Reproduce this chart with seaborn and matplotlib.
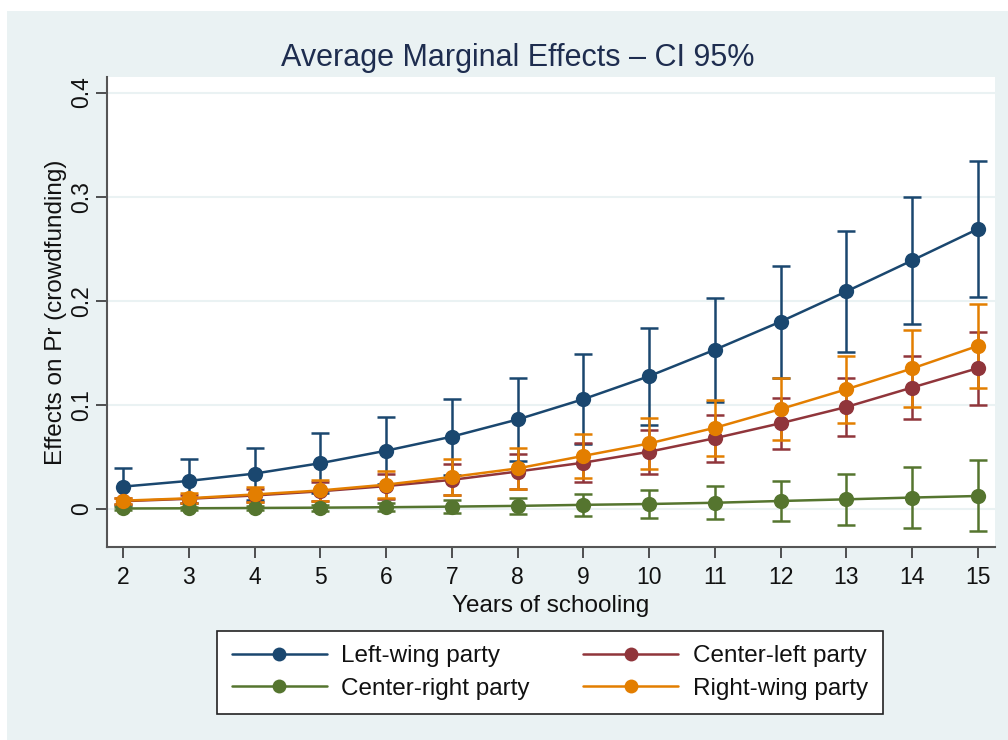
import numpy as np
import pandas as pd
import matplotlib
matplotlib.use("Agg")
import matplotlib.pyplot as plt
from matplotlib.lines import Line2D
from matplotlib.patches import Rectangle
import seaborn as sns

# ---------------- data ----------------
years = [2, 3, 4, 5, 6, 7, 8, 9, 10, 11, 12, 13, 14, 15]
parties = ["Left-wing party", "Center-left party", "Center-right party", "Right-wing party"]

left_wing = [0.0215, 0.027, 0.034, 0.044, 0.056, 0.0695, 0.086, 0.1055, 0.1276, 0.153, 0.180, 0.209, 0.2388, 0.269]
left_wing_hi = [0.039, 0.048, 0.059, 0.073, 0.088, 0.106, 0.126, 0.149, 0.174, 0.203, 0.2337, 0.2667, 0.300, 0.3346]
left_wing_lo = [0.004, 0.006, 0.009, 0.015, 0.024, 0.033, 0.046, 0.062, 0.081, 0.1026, 0.126, 0.151, 0.1776, 0.204]

center_left = [0.0075, 0.0098, 0.013, 0.017, 0.022, 0.028, 0.036, 0.0445, 0.055, 0.068, 0.0824, 0.098, 0.1167, 0.1353]
center_left_hi = [0.0105, 0.0138, 0.019, 0.026, 0.034, 0.043, 0.053, 0.0635, 0.076, 0.0905, 0.1069, 0.1255, 0.1467, 0.1705]
center_left_lo = [0.0045, 0.0058, 0.007, 0.008, 0.010, 0.013, 0.019, 0.0255, 0.034, 0.0455, 0.0579, 0.0705, 0.0867, 0.1001]

center_right = [0.0005, 0.0007, 0.001, 0.0013, 0.0017, 0.0023, 0.003, 0.004, 0.0048, 0.006, 0.0077, 0.0093, 0.011, 0.0125]
center_right_hi = [0.0015, 0.0022, 0.003, 0.0043, 0.0057, 0.0083, 0.011, 0.0145, 0.0178, 0.022, 0.0272, 0.0338, 0.040, 0.047]
center_right_lo = [-0.0005, -0.0008, -0.001, -0.0017, -0.0023, -0.0037, -0.005, -0.0065, -0.0082, -0.010, -0.0118, -0.0152, -0.018, -0.021]

right_wing = [0.008, 0.0103, 0.014, 0.0178, 0.0234, 0.0308, 0.039, 0.051, 0.063, 0.078, 0.096, 0.115, 0.135, 0.1567]
right_wing_hi = [0.011, 0.0153, 0.021, 0.0278, 0.0364, 0.0478, 0.059, 0.072, 0.0875, 0.105, 0.1256, 0.1474, 0.172, 0.1974]
right_wing_lo = [0.005, 0.0053, 0.007, 0.0078, 0.0104, 0.0138, 0.019, 0.030, 0.0385, 0.051, 0.0664, 0.0826, 0.098, 0.116]

y_ticks = [0, 0.1, 0.2, 0.3, 0.4]
y_ticklabels = ["0", "0.1", "0.2", "0.3", "0.4"]

colors = {
    "Left-wing party": "#1a476f",
    "Center-left party": "#90353b",
    "Center-right party": "#55752f",
    "Right-wing party": "#e37e00",
}

series = {
    "Left-wing party": (left_wing, left_wing_lo, left_wing_hi),
    "Center-left party": (center_left, center_left_lo, center_left_hi),
    "Center-right party": (center_right, center_right_lo, center_right_hi),
    "Right-wing party": (right_wing, right_wing_lo, right_wing_hi),
}

rows = []
for p in parties:
    est, lo, hi = series[p]
    for x, e, l, h in zip(years, est, lo, hi):
        rows.append({"years": x, "effect": e, "lo": l, "hi": h, "party": p})
df = pd.DataFrame(rows)

# ---------------- figure ----------------
sns.set_style("white")
plt.rcParams["font.family"] = ["Liberation Sans", "DejaVu Sans"]

BG = "#eaf2f3"
fig = plt.figure(figsize=(10.08, 7.40), dpi=100, facecolor="white")
fig.patches.append(Rectangle((7 / 1008, 0), 1 - 7 / 1008, 1 - 11 / 740,
                             transform=fig.transFigure, facecolor=BG,
                             edgecolor="none", zorder=-10))

ax = fig.add_axes([107 / 1008, 1 - 547 / 740, (995 - 107) / 1008, (547 - 77) / 740])
ax.set_facecolor("white")

# horizontal grid
for t in y_ticks:
    ax.axhline(t, color=BG, lw=1.5, zorder=0)

# confidence intervals
for p in parties:
    sub = df[df["party"] == p]
    ax.errorbar(sub["years"], sub["effect"],
                yerr=[sub["effect"] - sub["lo"], sub["hi"] - sub["effect"]],
                fmt="none", ecolor=colors[p], elinewidth=1.8, capsize=6.5,
                capthick=1.8, zorder=2)

sns.lineplot(data=df, x="years", y="effect", hue="party", hue_order=parties,
             palette=colors, marker="o", markersize=11, markeredgewidth=0,
             linewidth=1.8, legend=False, ax=ax, zorder=3)

ax.set_xlim(1.757, 15.26)
ax.set_ylim(-0.0365, 0.415)
ax.set_xticks(years)
ax.set_xticklabels([str(y) for y in years], fontsize=16.5, color="#111111")
ax.set_yticks(y_ticks)
ax.set_yticklabels(y_ticklabels, fontsize=16.5, color="#111111", rotation=90, va="center")
ax.tick_params(axis="x", which="major", direction="out", length=8, width=1.2,
               color="#333333", bottom=True, pad=6)
ax.tick_params(axis="y", which="major", direction="out", length=8, width=1.2,
               color="#333333", left=True, pad=2)

for s in ["top", "right"]:
    ax.spines[s].set_visible(False)
for s in ["left", "bottom"]:
    ax.spines[s].set_color("#555555")
    ax.spines[s].set_linewidth(1.5)

ax.set_xlabel("Years of schooling", fontsize=17.5, color="#111111", labelpad=4)
ax.set_ylabel("Effects on Pr (crowdfunding)", fontsize=17.5, color="#111111", labelpad=2)

fig.text(0.5135, 1 - 58 / 740, "Average Marginal Effects \u2013 CI 95%", fontsize=22,
         color="#1e2d4f", ha="center", va="center")

# legend (two columns, row-wise reading order)
order = ["Left-wing party", "Center-right party", "Center-left party", "Right-wing party"]
handles = [Line2D([0], [0], color=colors[p], lw=1.8, marker="o", markersize=10,
                  markeredgewidth=0) for p in order]
leg = fig.legend(handles, order, loc="center", ncol=2,
                 bbox_to_anchor=(550 / 1008, 1 - 672.5 / 740),
                 fontsize=17.5, frameon=True, fancybox=False, framealpha=1.0,
                 handlelength=3.9, handletextpad=0.6, columnspacing=2.2,
                 labelspacing=0.42, borderpad=0.6)
leg.get_frame().set_edgecolor("#222222")
leg.get_frame().set_linewidth(1.2)
leg.get_frame().set_facecolor("white")
for t in leg.get_texts():
    t.set_color("#111111")

fig.savefig("out.png", dpi=100, facecolor=fig.get_facecolor())
